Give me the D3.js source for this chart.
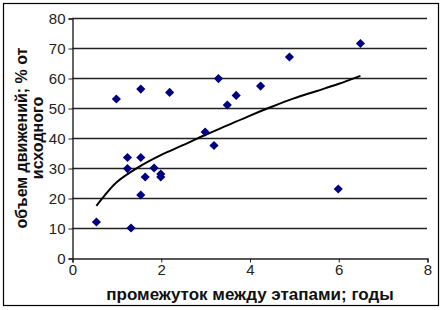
<!DOCTYPE html>
<html>
<head>
<meta charset="utf-8">
<script src="https://cdn.jsdelivr.net/npm/d3@7"></script>
<style>
  body { margin: 0; background: #fff; }
  svg { display: block; font-family: Arial, "Liberation Sans", sans-serif; }
</style>
</head>
<body>
<div id="d3-container"></div>
<script>
/**
 * CONSTANTS AND GLOBALS
 * */
const width = 443,
  height = 310,
  margin = { top: 18, bottom: 52, left: 72, right: 16 };

// points: interval between stages (years), volume (% of initial)
const gapYears = [0.55, 1.0, 1.55, 2.2, 1.25, 1.25, 1.55, 1.65, 1.85, 2.0, 2.0, 1.55, 1.33,
  3.0, 3.2, 3.3, 3.5, 3.7, 4.25, 4.9, 6.5, 6.0];
const volumePct = [12, 53, 56.3, 55.2, 33.5, 29.8, 33.5, 27, 30, 28, 27, 21, 10,
  42, 37.5, 59.8, 51, 54.2, 57.3, 67, 71.5, 23];

// trend line as it appears in the picture
const trendX = [0.55, 0.7, 1, 1.5, 2, 2.5, 3, 3.5, 4, 4.5, 5, 5.5, 6, 6.5];
const trendY = [17.4, 20.2, 25.2, 30.3, 34.3, 37.6, 41, 44.2, 47.4, 50.4, 53.2, 55.6, 58, 60.7];

const xTicks = [0, 2, 4, 6, 8];
const yTicks = [0, 10, 20, 30, 40, 50, 60, 70, 80];

const xTitle = "промежуток между этапами; годы";
const yTitle = ["объем движений; % от", "исходного"];

let svg;

init();

function init() {
  svg = d3.select("#d3-container")
    .append("svg")
    .attr("width", width)
    .attr("height", height);

  // outer frame
  svg.append("rect")
    .attr("x", 3.5).attr("y", 3.5)
    .attr("width", 435).attr("height", 302)
    .attr("fill", "#fff")
    .attr("stroke", "#000")
    .attr("stroke-width", 1.2);

  const x = d3.scaleLinear([0, 8], [margin.left, width - margin.right]);
  const y = d3.scaleLinear([0, 80], [height - margin.bottom, margin.top]);

  // horizontal grid
  svg.append("g")
    .selectAll("line")
    .data(yTicks.slice(1))
    .join("line")
    .attr("x1", x(0)).attr("x2", x(8))
    .attr("y1", d => y(d) + 0.5).attr("y2", d => y(d) + 0.5)
    .attr("stroke", "#222")
    .attr("stroke-width", 1.4);

  // axes
  const yAxis = svg.append("g")
    .attr("transform", `translate(${x(0) + 0.5},0.5)`)
    .call(d3.axisLeft(y).tickValues(yTicks).tickSize(4).tickPadding(3));
  const xAxis = svg.append("g")
    .attr("transform", `translate(0.5,${y(0) + 0.5})`)
    .call(d3.axisBottom(x).tickValues(xTicks).tickSize(4).tickPadding(2));

  [xAxis, yAxis].forEach(g => {
    g.select(".domain").attr("stroke", "#222").attr("stroke-width", 1.4);
    g.selectAll(".tick line").attr("stroke", "#222");
    g.selectAll(".tick text")
      .attr("fill", "#222")
      .style("font-size", "15px")
      .style("font-family", "Arial, 'Liberation Sans', sans-serif");
  });

  // trend line
  const trend = trendX.map((d, i) => [d, trendY[i]]);
  svg.append("path")
    .datum(trend)
    .attr("fill", "none")
    .attr("stroke", "#000")
    .attr("stroke-width", 2)
    .attr("d", d3.line().x(d => x(d[0])).y(d => y(d[1])).curve(d3.curveCatmullRom));

  // data points (diamonds)
  const diamond = d3.symbol(d3.symbolSquare, 42);
  svg.append("g")
    .selectAll("path")
    .data(gapYears.map((d, i) => ({ gap: d, vol: volumePct[i] })))
    .join("path")
    .attr("d", diamond)
    .attr("fill", "#000080")
    .attr("transform", d => `translate(${x(d.gap)},${y(d.vol)}) rotate(45)`);

  // axis titles
  svg.append("text")
    .attr("x", 250).attr("y", 300)
    .attr("text-anchor", "middle")
    .style("font-size", "17px")
    .style("font-weight", "bold")
    .attr("fill", "#111")
    .text(xTitle);

  svg.append("g")
    .attr("transform", "translate(0,138) rotate(-90)")
    .selectAll("text")
    .data(yTitle)
    .join("text")
    .attr("x", 0)
    .attr("y", (d, i) => 27 + i * 16)
    .attr("text-anchor", "middle")
    .style("font-size", "16px")
    .style("font-weight", "bold")
    .attr("fill", "#111")
    .text(d => d);
}
</script>
</body>
</html>
